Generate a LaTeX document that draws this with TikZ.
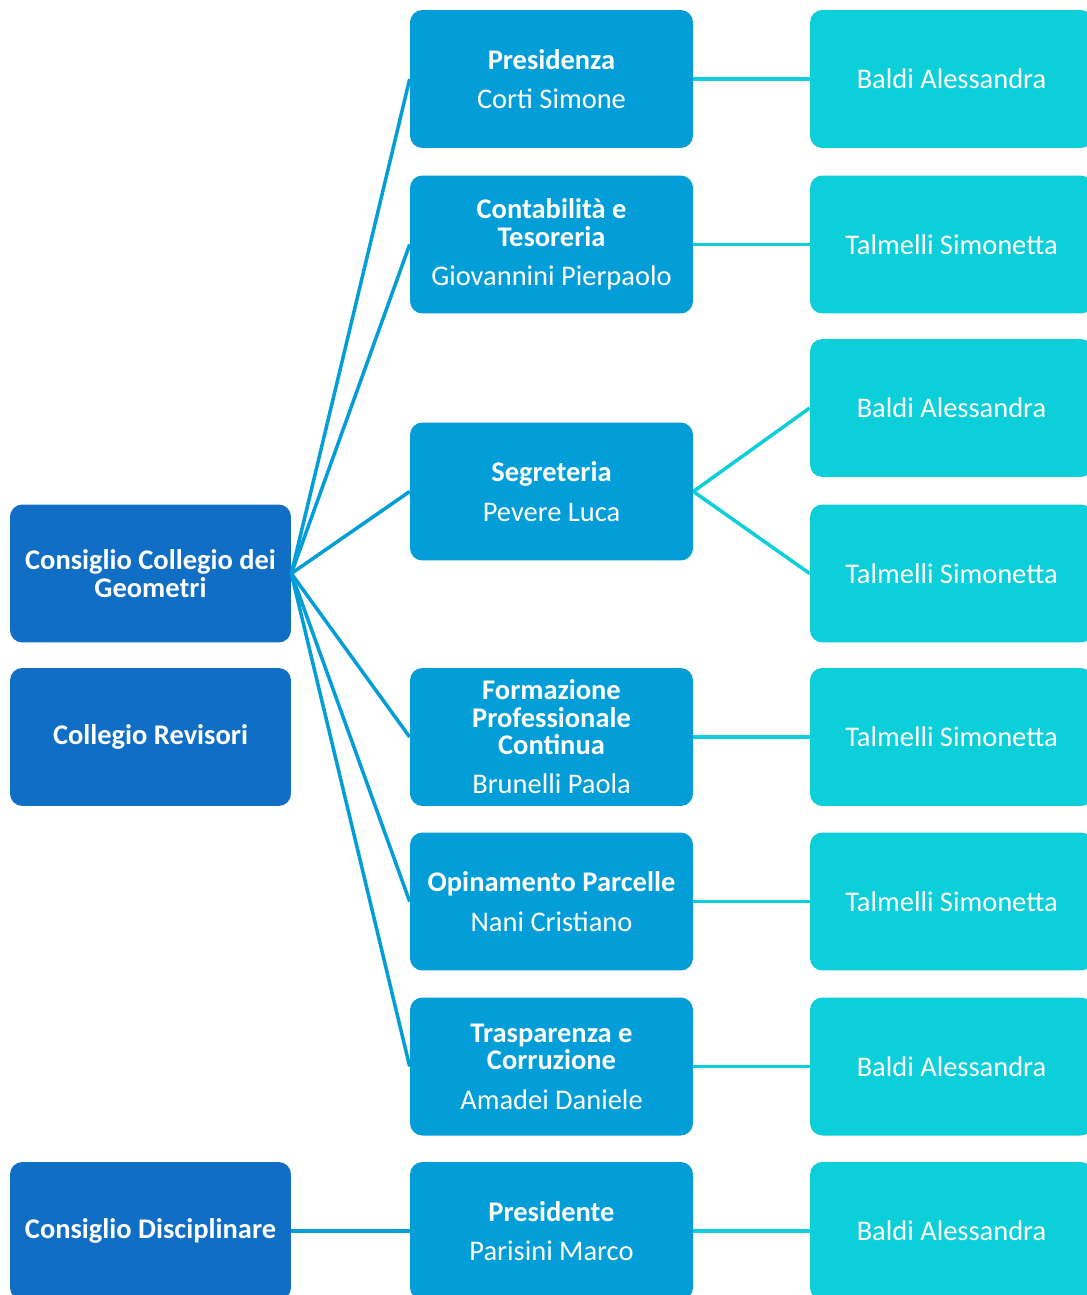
\documentclass[tikz,border=0pt]{standalone}
\usepackage{fontspec}
\setmainfont{Carlito}
\usetikzlibrary{positioning}

\definecolor{scuro}{HTML}{106EC4}
\definecolor{medio}{HTML}{039ED8}
\definecolor{chiaro}{HTML}{0DCFD9}

\tikzset{
	box/.style={rounded corners=7pt, minimum height=2.76cm, text=white, align=center, inner sep=2pt, font=\fontsize{16.2}{15.5}\selectfont},
	organo/.style={box, fill=scuro, minimum width=5.62cm, font=\fontsize{16.2}{15.5}\selectfont\bfseries},
	ufficio/.style={box, fill=medio, minimum width=5.66cm},
	referente/.style={box, fill=chiaro, minimum width=5.66cm},
	lineablu/.style={draw=medio, line width=2pt},
	lineaciano/.style={draw=chiaro, line width=2pt}
}
\newcommand{\tit}[1]{\textbf{#1}}

\begin{document}
\begin{tikzpicture}[x=0.02cm, y=-0.02cm]
		\useasboundingbox (0,0) rectangle (1087,1295);
		% organi
		\node[organo] (cons) at (150.5,573.5) {Consiglio Collegio dei\\Geometri};
		\node[organo] (rev) at (150.5,737) {Collegio Revisori};
		\node[organo] (disc) at (150.5,1231) {Consiglio Disciplinare};
		% uffici
		\node[ufficio] (pres) at (551.5,79) {\tit{Presidenza}\\[7pt]Corti Simone};
		\node[ufficio] (cont) at (551.5,244.5) {\tit{Contabilità e}\\\tit{Tesoreria}\\[7pt]Giovannini Pierpaolo};
		\node[ufficio] (segr) at (551.5,491.5) {\tit{Segreteria}\\[7pt]Pevere Luca};
		\node[ufficio] (form) at (551.5,737) {\tit{Formazione}\\\tit{Professionale}\\\tit{Continua}\\[7pt]Brunelli Paola};
		\node[ufficio] (opin) at (551.5,901.5) {\tit{Opinamento Parcelle}\\[7pt]Nani Cristiano};
		\node[ufficio] (trasp) at (551.5,1066.5) {\tit{Trasparenza e}\\\tit{Corruzione}\\[7pt]Amadei Daniele};
		\node[ufficio] (presd) at (551.5,1231) {\tit{Presidente}\\[7pt]Parisini Marco};
		% referenti
		\node[referente] (ref1) at (951.5,79) {Baldi Alessandra};
		\node[referente] (ref2) at (951.5,244.5) {Talmelli Simonetta};
		\node[referente] (ref3) at (951.5,408) {Baldi Alessandra};
		\node[referente] (ref4) at (951.5,573.5) {Talmelli Simonetta};
		\node[referente] (ref5) at (951.5,737) {Talmelli Simonetta};
		\node[referente] (ref6) at (951.5,901.5) {Talmelli Simonetta};
		\node[referente] (ref7) at (951.5,1066.5) {Baldi Alessandra};
		\node[referente] (ref8) at (951.5,1231) {Baldi Alessandra};
		% collegamenti
		\draw[lineablu] (cons.east) -- (pres.west);
		\draw[lineablu] (cons.east) -- (cont.west);
		\draw[lineablu] (cons.east) -- (segr.west);
		\draw[lineablu] (cons.east) -- (form.west);
		\draw[lineablu] (cons.east) -- (opin.west);
		\draw[lineablu] (cons.east) -- (trasp.west);
		\draw[lineablu] (disc.east) -- (presd.west);
		\draw[lineaciano] (pres.east) -- (ref1.west);
		\draw[lineaciano] (cont.east) -- (ref2.west);
		\draw[lineaciano] (segr.east) -- (ref3.west);
		\draw[lineaciano] (segr.east) -- (ref4.west);
		\draw[lineaciano] (form.east) -- (ref5.west);
		\draw[lineaciano] (opin.east) -- (ref6.west);
		\draw[lineaciano] (trasp.east) -- (ref7.west);
		\draw[lineaciano] (presd.east) -- (ref8.west);
	\end{tikzpicture}
\end{document}
